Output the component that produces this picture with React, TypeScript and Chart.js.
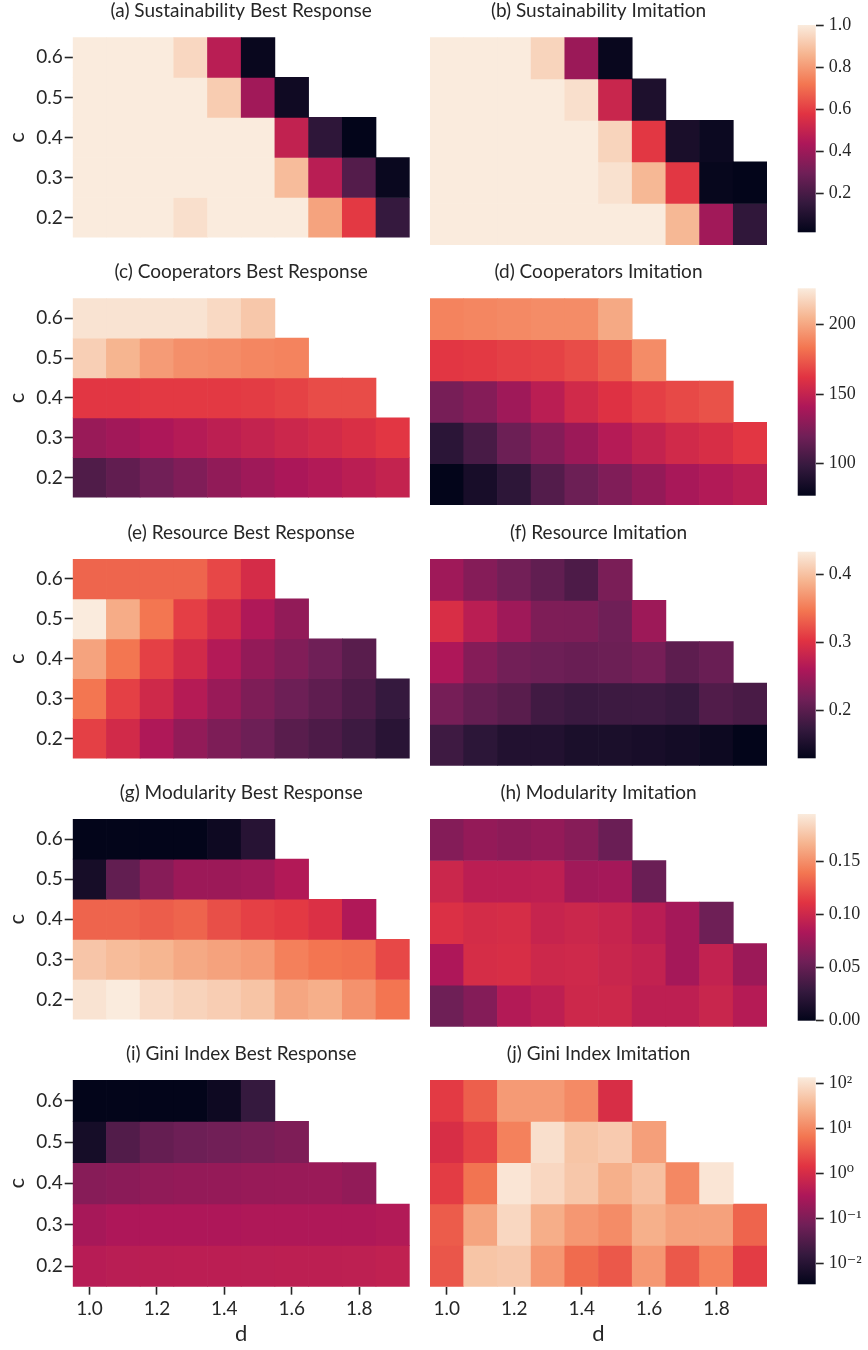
import React, { useEffect, useRef } from 'react';
import { Chart, registerables } from 'chart.js';

Chart.register(...registerables);

// ---------------- data ----------------
const D_VALUES = [1.0, 1.1, 1.2, 1.3, 1.4, 1.5, 1.6, 1.7, 1.8, 1.9];
const C_VALUES = [0.6, 0.5, 0.4, 0.3, 0.2];
const D_TICKS = [1.0, 1.2, 1.4, 1.6, 1.8];
const D_TICK_LABELS = ['1.0', '1.2', '1.4', '1.6', '1.8'];
const C_TICKS = [0.2, 0.3, 0.4, 0.5, 0.6];
const C_TICK_LABELS = ['0.2', '0.3', '0.4', '0.5', '0.6'];

const _ = null;

const sustainabilityBest = [
  [1.0, 1.0, 1.0, 0.95, 0.47, 0.03, _, _, _, _],
  [1.0, 1.0, 1.0, 1.0, 0.92, 0.41, 0.05, _, _, _],
  [1.0, 1.0, 1.0, 1.0, 1.0, 1.0, 0.49, 0.135, 0.015, _],
  [1.0, 1.0, 1.0, 1.0, 1.0, 1.0, 0.88, 0.47, 0.23, 0.035],
  [1.0, 1.0, 1.0, 0.97, 1.0, 1.0, 1.0, 0.82, 0.59, 0.155],
];
const sustainabilityImitation = [
  [1.0, 1.0, 1.0, 0.94, 0.395, 0.03, _, _, _, _],
  [1.0, 1.0, 1.0, 1.0, 0.97, 0.51, 0.09, _, _, _],
  [1.0, 1.0, 1.0, 1.0, 1.0, 0.94, 0.585, 0.078, 0.04, _],
  [1.0, 1.0, 1.0, 1.0, 1.0, 0.975, 0.87, 0.585, 0.025, 0.015],
  [1.0, 1.0, 1.0, 1.0, 1.0, 1.0, 1.0, 0.87, 0.41, 0.14],
];
const cooperatorsBest = [
  [223, 223, 223, 223, 219, 212, _, _, _, _],
  [215, 205, 196, 192, 191, 189, 188, _, _, _],
  [163, 163, 164, 164, 164, 165, 167, 170, 170, _],
  [134, 137, 141, 144, 147, 150, 153, 156, 159, 163],
  [108, 114, 120, 125, 131, 136, 140, 143, 146, 150],
];
const cooperatorsImitation = [
  [188, 189, 190, 191, 191, 201, _, _, _, _],
  [163, 164, 166, 167, 170, 176, 191, _, _, _],
  [122, 127, 136, 146, 155, 161, 166, 169, 172, _],
  [94, 105, 118, 127, 135, 144, 150, 155, 158, 163],
  [77, 86, 95, 109, 118, 125, 132, 139, 143, 146],
];
const resourceBest = [
  [0.335, 0.335, 0.335, 0.335, 0.316, 0.292, _, _, _, _],
  [0.433, 0.384, 0.346, 0.31, 0.289, 0.261, 0.24, _, _, _],
  [0.378, 0.346, 0.311, 0.289, 0.264, 0.241, 0.228, 0.215, 0.199, _],
  [0.346, 0.311, 0.287, 0.266, 0.245, 0.226, 0.214, 0.203, 0.19, 0.172],
  [0.311, 0.289, 0.261, 0.24, 0.225, 0.214, 0.199, 0.19, 0.178, 0.162],
];
const resourceImitation = [
  [0.249, 0.231, 0.217, 0.205, 0.19, 0.223, _, _, _, _],
  [0.295, 0.27, 0.249, 0.226, 0.225, 0.215, 0.248, _, _, _],
  [0.26, 0.231, 0.217, 0.214, 0.211, 0.213, 0.22, 0.202, 0.211, _],
  [0.22, 0.207, 0.199, 0.181, 0.176, 0.178, 0.179, 0.175, 0.193, 0.187],
  [0.179, 0.165, 0.156, 0.156, 0.15, 0.15, 0.147, 0.144, 0.138, 0.129],
];
const modularityBest = [
  [0.0, 0.0, 0.0, 0.0, 0.006, 0.02, _, _, _, _],
  [0.011, 0.049, 0.066, 0.076, 0.076, 0.078, 0.086, _, _, _],
  [0.132, 0.132, 0.129, 0.132, 0.123, 0.117, 0.114, 0.108, 0.085, _],
  [0.176, 0.171, 0.168, 0.162, 0.159, 0.156, 0.144, 0.139, 0.137, 0.12],
  [0.191, 0.195, 0.187, 0.183, 0.18, 0.175, 0.161, 0.165, 0.152, 0.139],
];
const modularityImitation = [
  [0.065, 0.072, 0.069, 0.072, 0.066, 0.053, _, _, _, _],
  [0.099, 0.091, 0.091, 0.092, 0.078, 0.08, 0.053, _, _, _],
  [0.108, 0.104, 0.105, 0.097, 0.099, 0.097, 0.09, 0.08, 0.055, _],
  [0.084, 0.105, 0.106, 0.1, 0.101, 0.098, 0.095, 0.08, 0.095, 0.076],
  [0.055, 0.065, 0.087, 0.092, 0.1, 0.1, 0.092, 0.092, 0.098, 0.088],
];
const giniBest = [
  [0.0035, 0.0035, 0.0035, 0.0035, 0.0049, 0.016, _, _, _, _],
  [0.0063, 0.033, 0.054, 0.067, 0.074, 0.084, 0.1, _, _, _],
  [0.125, 0.14, 0.16, 0.175, 0.18, 0.19, 0.195, 0.2, 0.165, _],
  [0.28, 0.33, 0.33, 0.33, 0.33, 0.34, 0.34, 0.34, 0.34, 0.37],
  [0.43, 0.46, 0.47, 0.48, 0.48, 0.49, 0.5, 0.5, 0.52, 0.56],
];
const giniImitation = [
  [1.7, 3.9, 15.9, 15.9, 10.7, 1.1, _, _, _, _],
  [1.1, 2.0, 8.7, 98, 47, 55, 18, _, _, _],
  [1.8, 6.3, 115, 79, 50, 27, 42, 10.2, 115, _],
  [3.7, 20, 79, 26, 14.7, 11.3, 27, 19, 19, 4.4],
  [3.2, 47, 52, 14.7, 5.1, 3.4, 14.7, 3.4, 8.7, 1.8],
];

const SUST_RANGE = [0.014, 1.0];
const SUST_TICKS = [0.2, 0.4, 0.6, 0.8, 1.0];
const SUST_TICK_LABELS = ['0.2', '0.4', '0.6', '0.8', '1.0'];
const COOP_RANGE = [77, 226];
const COOP_TICKS = [100, 150, 200];
const COOP_TICK_LABELS = ['100', '150', '200'];
const RES_RANGE = [0.129, 0.433];
const RES_TICKS = [0.2, 0.3, 0.4];
const RES_TICK_LABELS = ['0.2', '0.3', '0.4'];
const MOD_RANGE = [0.0, 0.195];
const MOD_TICKS = [0.0, 0.05, 0.1, 0.15];
const MOD_TICK_LABELS = ['0.00', '0.05', '0.10', '0.15'];
const GINI_RANGE = [0.0035, 135];
const GINI_TICKS = [0.01, 0.1, 1, 10, 100];
const GINI_TICK_LABELS = ['10\u207B\u00B2', '10\u207B\u00B9', '10\u2070', '10\u00B9', '10\u00B2'];

const TITLES = [
  ['(a) Sustainability Best Response', '(b) Sustainability Imitation'],
  ['(c) Cooperators Best Response', '(d) Cooperators Imitation'],
  ['(e) Resource Best Response', '(f) Resource Imitation'],
  ['(g) Modularity Best Response', '(h) Modularity Imitation'],
  ['(i) Gini Index Best Response', '(j) Gini Index Imitation'],
];

// ---------------- styling / colormap ----------------
const ROCKET: number[][] = [
  [0, 3, 5, 26],
  [1 / 7, 53, 25, 62],
  [2 / 7, 112, 31, 87],
  [3 / 7, 173, 23, 89],
  [4 / 7, 225, 51, 66],
  [5 / 7, 243, 118, 81],
  [6 / 7, 246, 180, 143],
  [1, 250, 235, 221],
];

function rocket(t: number): string {
  const tt = Math.max(0, Math.min(1, t));
  for (let i = 1; i < ROCKET.length; i++) {
    const a = ROCKET[i - 1];
    const b = ROCKET[i];
    if (tt <= b[0]) {
      const f = (tt - a[0]) / (b[0] - a[0]);
      const r = Math.round(a[1] + (b[1] - a[1]) * f);
      const g = Math.round(a[2] + (b[2] - a[2]) * f);
      const bl = Math.round(a[3] + (b[3] - a[3]) * f);
      return `rgb(${r},${g},${bl})`;
    }
  }
  return 'rgb(250,235,221)';
}

type RowSpec = {
  values: (number | null)[][][];
  range: number[];
  ticks: number[];
  tickLabels: string[];
  log: boolean;
};

const ROWS: RowSpec[] = [
  { values: [sustainabilityBest, sustainabilityImitation], range: SUST_RANGE, ticks: SUST_TICKS, tickLabels: SUST_TICK_LABELS, log: false },
  { values: [cooperatorsBest, cooperatorsImitation], range: COOP_RANGE, ticks: COOP_TICKS, tickLabels: COOP_TICK_LABELS, log: false },
  { values: [resourceBest, resourceImitation], range: RES_RANGE, ticks: RES_TICKS, tickLabels: RES_TICK_LABELS, log: false },
  { values: [modularityBest, modularityImitation], range: MOD_RANGE, ticks: MOD_TICKS, tickLabels: MOD_TICK_LABELS, log: false },
  { values: [giniBest, giniImitation], range: GINI_RANGE, ticks: GINI_TICKS, tickLabels: GINI_TICK_LABELS, log: true },
];

function normFor(row: RowSpec) {
  const [lo, hi] = row.range;
  if (row.log) {
    const l0 = Math.log10(lo);
    const l1 = Math.log10(hi);
    return (v: number) => (Math.log10(v) - l0) / (l1 - l0);
  }
  return (v: number) => (v - lo) / (hi - lo);
}

// layout (pixels)
const PAGE_W = 868;
const PAGE_H = 1350;
const HEAT_LEFT = [72.7, 430];
const HEAT_WIDTH = 337;
const HEAT_TOP = [37.3, 298.3, 559, 819, 1080];
const HEAT_BOTTOM = [245, 505, 765.7, 1026.7, 1286.7];
const CB_LEFT = 797.7;
const CB_RIGHT = 815.7;
const CB_TOP = [25, 288.3, 551.7, 814, 1077.3];
const CB_BOTTOM = [232.3, 495.7, 758.3, 1020.7, 1284.3];
const TITLE_OFFSET = 26.5;

const INK = '#262626';
const SANS = 'Lato';
const SERIF = "'Liberation Serif', 'DejaVu Serif', serif";

Chart.defaults.font.family = SANS;
Chart.defaults.color = INK;

const panelTitlePlugin = {
  id: 'panelTitle',
  afterDraw(chart: any, _args: any, opts: any) {
    if (!opts || !opts.text) return;
    const { ctx, chartArea } = chart;
    ctx.save();
    ctx.font = `19px ${SANS}`;
    ctx.fillStyle = INK;
    ctx.textAlign = 'center';
    ctx.textBaseline = 'middle';
    ctx.fillText(opts.text, (chartArea.left + chartArea.right) / 2, chartArea.top - opts.offset);
    ctx.restore();
  },
};

const colorbarPlugin = {
  id: 'colorbarFill',
  beforeDatasetsDraw(chart: any) {
    const { ctx, chartArea: a } = chart;
    const g = ctx.createLinearGradient(0, a.bottom, 0, a.top);
    ROCKET.forEach((s) => g.addColorStop(s[0], `rgb(${s[1]},${s[2]},${s[3]})`));
    ctx.save();
    ctx.fillStyle = g;
    ctx.fillRect(a.left, a.top, a.right - a.left, a.bottom - a.top);
    ctx.restore();
  },
};

type Geo = { left: number; top: number; width: number; height: number };

function heatGeometry(row: number, col: number) {
  const isBottom = row === ROWS.length - 1;
  const left = col === 0 ? 0 : 420;
  const width = col === 0 ? 420 : 360;
  const top = Math.floor(HEAT_TOP[row]) - 37;
  const height = isBottom ? PAGE_H - top : Math.ceil(HEAT_BOTTOM[row]) + 6 - top;
  const padLeft = col === 0 ? 0 : HEAT_LEFT[1] - left;
  const yWidth = col === 0 ? HEAT_LEFT[0] : 0;
  const padRight = width - (HEAT_LEFT[col] - left) - HEAT_WIDTH;
  const padTop = HEAT_TOP[row] - top;
  const xHeight = isBottom ? top + height - HEAT_BOTTOM[row] : 0;
  const padBottom = isBottom ? 0 : top + height - HEAT_BOTTOM[row];
  return { geo: { left, top, width, height }, padLeft, padRight, padTop, padBottom, yWidth, xHeight };
}

function heatConfig(row: number, col: number): any {
  const R = ROWS[row];
  const values = R.values[col];
  const norm = normFor(R);
  const isLeft = col === 0;
  const isBottom = row === ROWS.length - 1;
  const g = heatGeometry(row, col);
  const halfC = Math.abs(C_VALUES[0] - C_VALUES[1]) / 2;
  const halfD = Math.abs(D_VALUES[1] - D_VALUES[0]) / 2;

  const datasets = C_VALUES.map((c, i) => ({
    label: 'c = ' + c,
    stack: 'heat',
    data: D_VALUES.map((d, j) => ({ x: d, y: [c - halfC, c + halfC], v: values[i][j] })).filter((p) => p.v !== null),
    backgroundColor: (ctx: any) => (ctx.raw && ctx.raw.v != null ? rocket(norm(ctx.raw.v)) : 'rgba(0,0,0,0)'),
    borderWidth: 0,
    barPercentage: 1,
    categoryPercentage: 1,
  }));

  return {
    type: 'bar',
    data: { datasets },
    options: {
      animation: false,
      responsive: false,
      devicePixelRatio: 1,
      events: [],
      layout: { padding: { left: g.padLeft, right: g.padRight, top: g.padTop, bottom: g.padBottom } },
      plugins: {
        legend: { display: false },
        tooltip: { enabled: false },
        panelTitle: { text: TITLES[row][col], offset: TITLE_OFFSET },
      },
      scales: {
        x: {
          type: 'linear',
          min: D_VALUES[0] - halfD,
          max: D_VALUES[D_VALUES.length - 1] + halfD,
          offset: false,
          display: isBottom,
          afterBuildTicks: (s: any) => {
            s.ticks = D_TICKS.map((v) => ({ value: v }));
          },
          afterFit: (s: any) => {
            s.height = g.xHeight;
          },
          ticks: {
            callback: (_v: any, i: number) => D_TICK_LABELS[i],
            font: { family: SANS, size: 19 },
            color: INK,
            padding: 3,
            maxRotation: 0,
            autoSkip: false,
          },
          grid: { offset: false, drawOnChartArea: false, drawTicks: true, tickLength: 8, tickWidth: 1.6, tickColor: INK },
          border: { display: false },
          title: { display: true, text: 'd', font: { family: SANS, size: 22, lineHeight: 1.2 }, color: INK, padding: { top: 0, bottom: 3 } },
        },
        y: {
          type: 'linear',
          min: C_VALUES[C_VALUES.length - 1] - halfC,
          max: C_VALUES[0] + halfC,
          stacked: false,
          beginAtZero: false,
          display: isLeft,
          afterBuildTicks: (s: any) => {
            s.ticks = C_TICKS.map((v) => ({ value: v }));
          },
          afterFit: (s: any) => {
            s.width = g.yWidth;
          },
          ticks: {
            callback: (_v: any, i: number) => C_TICK_LABELS[i],
            font: { family: SANS, size: 19 },
            color: INK,
            padding: 2,
            autoSkip: false,
          },
          grid: { drawOnChartArea: false, drawTicks: true, tickLength: 8, tickWidth: 1.6, tickColor: INK },
          border: { display: false },
          title: { display: true, text: 'c', font: { family: SANS, size: 22, lineHeight: 1.2 }, color: INK, padding: { top: 4, bottom: 0 } },
        },
      },
    },
    plugins: [panelTitlePlugin],
  };
}

function colorbarGeometry(row: number) {
  const left = 780;
  const width = PAGE_W - left;
  const top = Math.floor(CB_TOP[row]) - 16;
  const height = Math.ceil(CB_BOTTOM[row]) + 16 - top;
  return {
    geo: { left, top, width, height },
    padLeft: CB_LEFT - left,
    yWidth: PAGE_W - CB_RIGHT,
    padTop: CB_TOP[row] - top,
    padBottom: top + height - CB_BOTTOM[row],
  };
}

function colorbarConfig(row: number): any {
  const R = ROWS[row];
  const g = colorbarGeometry(row);
  return {
    type: 'bar',
    data: { labels: [], datasets: [] },
    options: {
      animation: false,
      responsive: false,
      devicePixelRatio: 1,
      events: [],
      layout: { padding: { left: g.padLeft, right: 0, top: g.padTop, bottom: g.padBottom } },
      plugins: { legend: { display: false }, tooltip: { enabled: false } },
      scales: {
        x: { display: false },
        y: {
          type: R.log ? 'logarithmic' : 'linear',
          position: 'right',
          min: R.range[0],
          max: R.range[1],
          beginAtZero: false,
          afterBuildTicks: (s: any) => {
            s.ticks = R.ticks.map((v) => ({ value: v, major: true }));
          },
          afterFit: (s: any) => {
            s.width = g.yWidth;
          },
          ticks: {
            callback: (_v: any, i: number) => R.tickLabels[i],
            font: { family: SERIF, size: 18 },
            color: INK,
            padding: 5,
            autoSkip: false,
          },
          grid: { drawOnChartArea: false, drawTicks: true, tickLength: 8, tickWidth: 1.6, tickColor: INK },
          border: { display: false },
        },
      },
    },
    plugins: [colorbarPlugin],
  };
}

function ChartCanvas({ geo, make }: { geo: Geo; make: () => any }) {
  const ref = useRef<HTMLCanvasElement>(null);
  useEffect(() => {
    if (!ref.current) return;
    const chart = new Chart(ref.current, make());
    return () => chart.destroy();
  }, []);
  return (
    <canvas
      ref={ref}
      width={geo.width}
      height={geo.height}
      style={{ position: 'absolute', left: geo.left, top: geo.top, width: geo.width, height: geo.height }}
    />
  );
}

export default function App() {
  const items: React.ReactNode[] = [];
  ROWS.forEach((_r, row) => {
    [0, 1].forEach((col) => {
      const g = heatGeometry(row, col);
      items.push(<ChartCanvas key={`h-${row}-${col}`} geo={g.geo} make={() => heatConfig(row, col)} />);
    });
    const cg = colorbarGeometry(row);
    items.push(<ChartCanvas key={`cb-${row}`} geo={cg.geo} make={() => colorbarConfig(row)} />);
  });
  return (
    <div style={{ position: 'absolute', left: 0, top: 0, width: PAGE_W, height: PAGE_H, overflow: 'hidden', background: '#ffffff' }}>
      {items}
    </div>
  );
}
